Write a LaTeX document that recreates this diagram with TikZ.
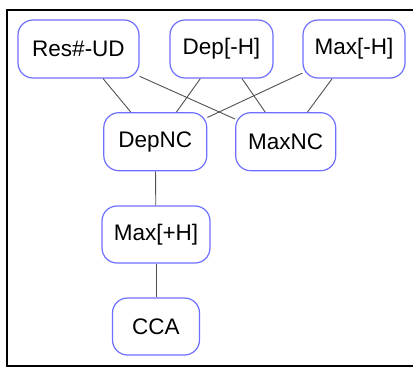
\documentclass[tikz,border=0pt]{standalone}
\usepackage{fontspec}
\setmainfont{Liberation Sans}
\definecolor{nodeblue}{RGB}{110,110,255}
\definecolor{edgegray}{RGB}{80,80,80}
\begin{document}
\begin{tikzpicture}[x=1pt,y=-1pt,
  box/.style={draw=nodeblue, line width=1.2pt, rounded corners=15pt, fill=white,
    minimum height=58pt, inner sep=0pt, font=\fontsize{22.5}{27}\selectfont},
  edge/.style={draw=edgegray, line width=0.9pt}]
\useasboundingbox (0,0) rectangle (413,367);
\draw[line width=2pt] (420,10.3) -- (6.8,10.3) -- (6.8,365.5) -- (420,365.5);
\node[box, minimum width=121pt] (res) at (78.5,49) {Res\#-UD};
\node[box, minimum width=103pt] (dep) at (221.5,49) {Dep[-H]};
\node[box, minimum width=102pt] (maxh) at (354,49) {Max[-H]};
\node[box, minimum width=103pt] (depnc) at (155.3,141.7) {DepNC};
\node[box, minimum width=100pt] (maxnc) at (285.7,141.7) {MaxNC};
\node[box, minimum width=108pt, minimum height=57pt] (maxp) at (156,234.5) {Max[+H]};
\node[box, minimum width=87pt, minimum height=57pt] (cca) at (156,326.5) {CCA};
\draw[edge] (res) -- (depnc);
\draw[edge] (res) -- (maxnc);
\draw[edge] (dep) -- (depnc);
\draw[edge] (dep) -- (maxnc);
\draw[edge] (maxh) -- (depnc);
\draw[edge] (maxh) -- (maxnc);
\draw[edge] (depnc) -- (maxp);
\draw[edge] (maxp) -- (cca);
\end{tikzpicture}
\end{document}
